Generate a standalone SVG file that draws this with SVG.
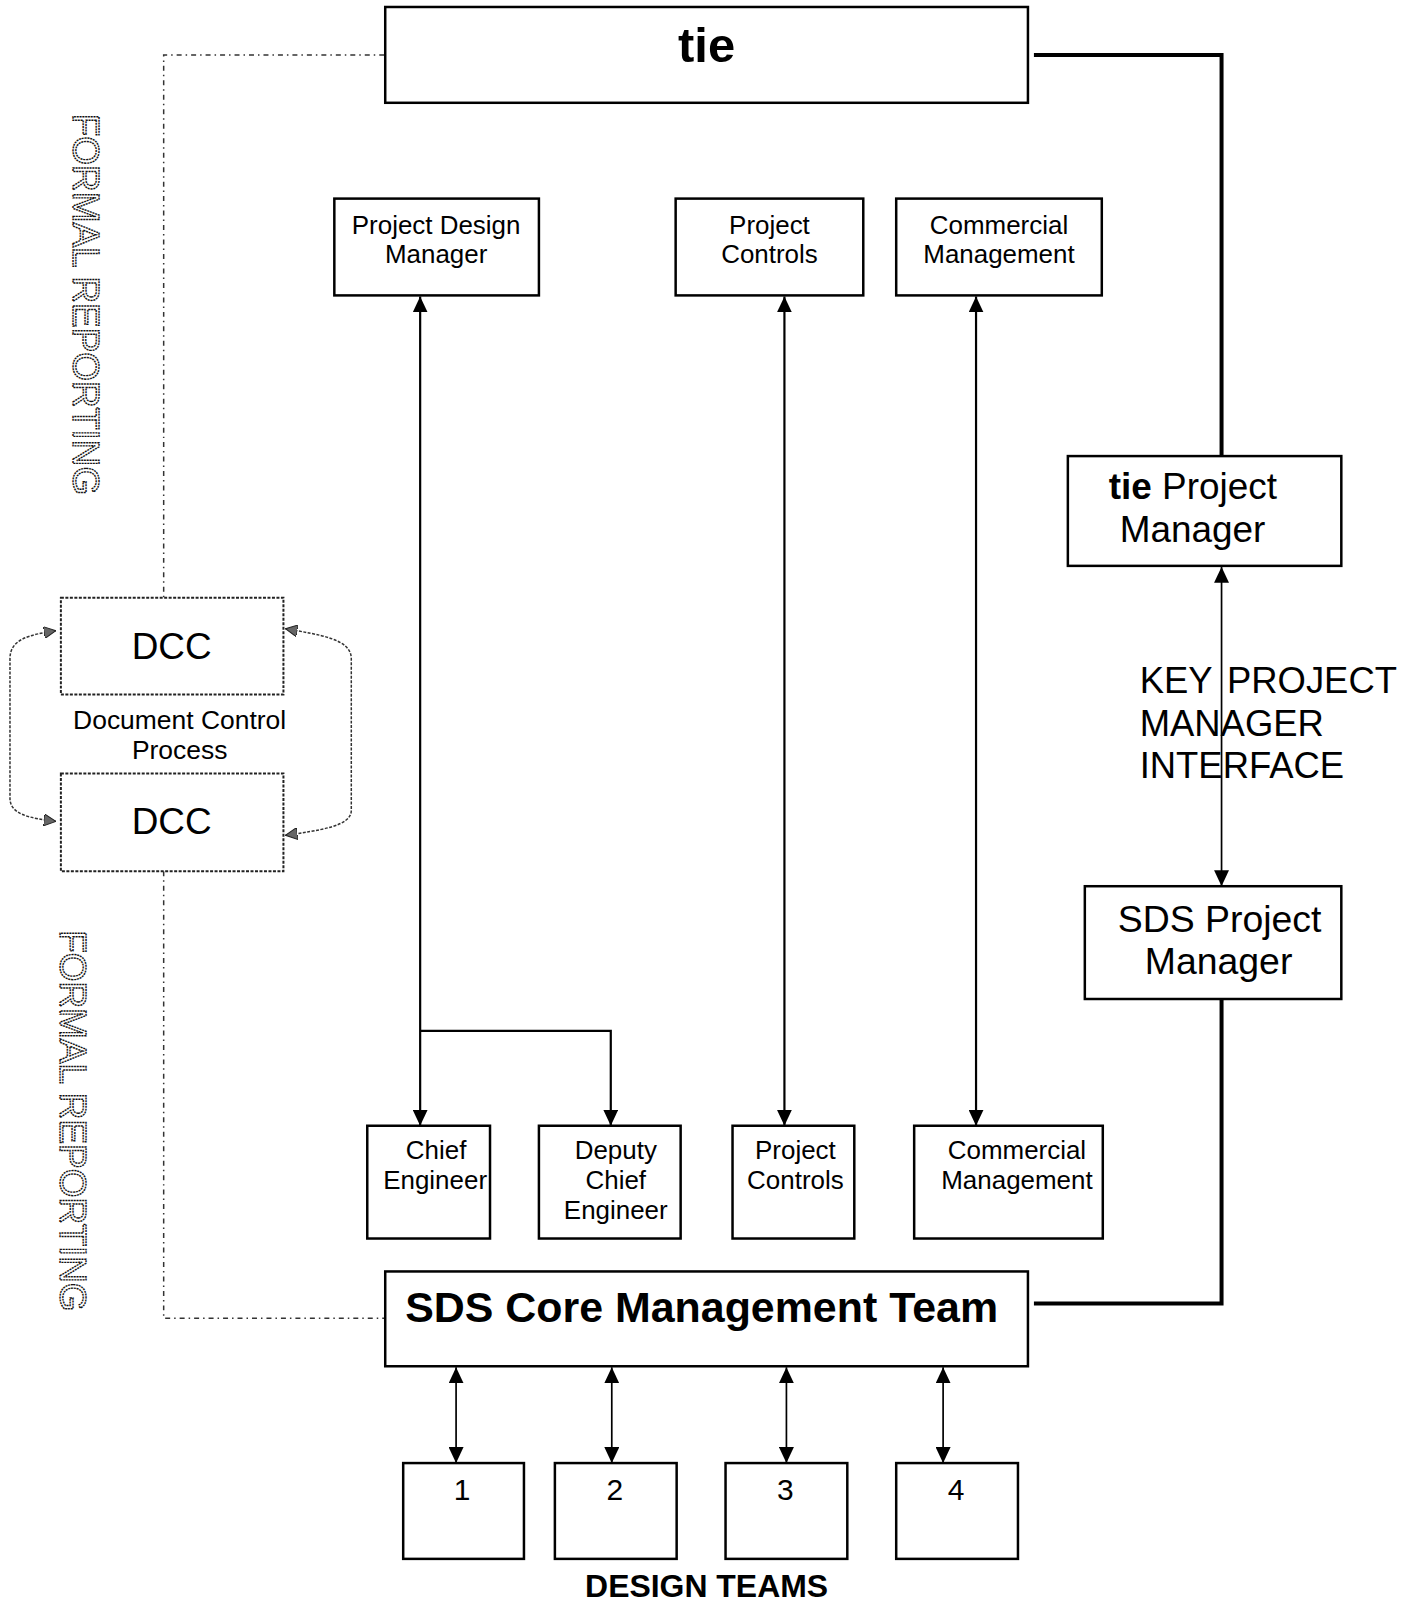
<svg xmlns="http://www.w3.org/2000/svg" width="1416" height="1602" viewBox="0 0 1416 1602">
<style>
.box{fill:#fff;stroke:#000;stroke-width:2.5}
.dcc{fill:#fff;stroke:#222;stroke-width:2;stroke-dasharray:3 1.5}
.t{font-family:"Liberation Sans",Arial,sans-serif;fill:#000}
.conn{fill:none;stroke:#000;stroke-width:2.2}
.thin{fill:none;stroke:#000;stroke-width:1.7}
.thick{fill:none;stroke:#000;stroke-width:4}
.dot{fill:none;stroke:#333;stroke-width:1.5;stroke-dasharray:5 4 1.5 4}
.curve{fill:none;stroke:#333;stroke-width:1.5;stroke-dasharray:3 1.5}
.fr{font-family:"Liberation Sans",Arial,sans-serif;font-size:37px;fill:none;stroke:#111;stroke-width:1.4;stroke-dasharray:2 0.8}
</style>
<defs>
<marker id="ah" viewBox="0 0 16 15" refX="16" refY="7.5" markerWidth="16" markerHeight="15" markerUnits="userSpaceOnUse" orient="auto-start-reverse">
<path d="M0,0 L16,7.5 L0,15 z" fill="#000"/>
</marker>
<marker id="ahs" viewBox="0 0 12 12" refX="12" refY="6" markerWidth="12" markerHeight="12" markerUnits="userSpaceOnUse" orient="auto-start-reverse">
<path d="M0,0 L12,6 L0,12 z" fill="#666" stroke="#222" stroke-width="1"/>
</marker>
</defs>
<g transform="scale(0.998)">
<g id="connectors">
<path class="thick" d="M1036,55 H1224 V456"/>
<path class="thick" d="M1224,1002 V1306 H1036"/>
<path class="dot" d="M385,55 H164 V599"/>
<path class="dot" d="M164,873 V1321 H385"/>
<path class="conn" d="M421,297 V1128" marker-start="url(#ah)" marker-end="url(#ah)"/>
<path class="conn" d="M421,1033 H612 V1128" marker-end="url(#ah)"/>
<path class="conn" d="M786,297 V1128" marker-start="url(#ah)" marker-end="url(#ah)"/>
<path class="conn" d="M978,297 V1128" marker-start="url(#ah)" marker-end="url(#ah)"/>
<path class="thin" d="M1224,568 V888" marker-start="url(#ah)" marker-end="url(#ah)"/>
<path class="thin" d="M457,1370 V1466" marker-start="url(#ah)" marker-end="url(#ah)"/>
<path class="thin" d="M613,1370 V1466" marker-start="url(#ah)" marker-end="url(#ah)"/>
<path class="thin" d="M788,1370 V1466" marker-start="url(#ah)" marker-end="url(#ah)"/>
<path class="thin" d="M945,1370 V1466" marker-start="url(#ah)" marker-end="url(#ah)"/>
<path class="curve" d="M56,632 C30,636 10,640 10,660 L10,800 C10,816 30,820 56,823" marker-start="url(#ahs)" marker-end="url(#ahs)"/>
<path class="curve" d="M286,630 C320,636 352,640 352,660 L352,812 C352,828 320,832 286,837" marker-start="url(#ahs)" marker-end="url(#ahs)"/>
</g>

<g id="tie">
<rect class="box" x="386" y="7" width="644" height="96"/>
<text class="t" x="708" y="62" font-size="49" font-weight="bold" text-anchor="middle">tie</text>
</g>

<g id="formal-reporting-top">
<text class="fr" transform="translate(73,114) rotate(90)">FORMAL REPORTING</text>
</g>
<g id="formal-reporting-bottom">
<text class="fr" transform="translate(60,932) rotate(90)">FORMAL REPORTING</text>
</g>

<g id="project-design-manager">
<rect class="box" x="335" y="199" width="205" height="97"/>
<text class="t" font-size="26" text-anchor="middle"><tspan x="437" y="234">Project Design</tspan><tspan x="437" y="264">Manager</tspan></text>
</g>
<g id="project-controls-top">
<rect class="box" x="677" y="199" width="188" height="97"/>
<text class="t" font-size="26" text-anchor="middle"><tspan x="771" y="234">Project</tspan><tspan x="771" y="264">Controls</tspan></text>
</g>
<g id="commercial-management-top">
<rect class="box" x="898" y="199" width="206" height="97"/>
<text class="t" font-size="26" text-anchor="middle"><tspan x="1001" y="234">Commercial</tspan><tspan x="1001" y="264">Management</tspan></text>
</g>

<g id="tie-project-manager">
<rect class="box" x="1070" y="457" width="274" height="110"/>
<text class="t" font-size="37" x="1111" y="500"><tspan font-weight="bold">tie</tspan> Project</text>
<text class="t" font-size="37" x="1122" y="543">Manager</text>
</g>

<g id="key-interface-label">
<text class="t" font-size="36.5" word-spacing="5"><tspan x="1142" y="694">KEY PROJECT</tspan><tspan x="1142" y="737">MANAGER</tspan><tspan x="1142" y="780">INTERFACE</tspan></text>
</g>

<g id="sds-project-manager">
<rect class="box" x="1087" y="888" width="257" height="113"/>
<text class="t" font-size="37.5" text-anchor="middle"><tspan x="1222" y="934">SDS Project</tspan><tspan x="1221" y="976">Manager</tspan></text>
</g>

<g id="dcc-top">
<rect class="dcc" x="61" y="599" width="223" height="97"/>
<text class="t" font-size="37" x="172" y="660" text-anchor="middle">DCC</text>
</g>
<g id="document-control-label">
<text class="t" font-size="26.5" text-anchor="middle"><tspan x="180" y="730">Document Control</tspan><tspan x="180" y="761">Process</tspan></text>
</g>
<g id="dcc-bottom">
<rect class="dcc" x="61" y="775" width="223" height="98"/>
<text class="t" font-size="37" x="172" y="836" text-anchor="middle">DCC</text>
</g>

<g id="chief-engineer">
<rect class="box" x="368" y="1128" width="123" height="113"/>
<text class="t" font-size="26" text-anchor="middle"><tspan x="437" y="1161">Chief</tspan><tspan x="436" y="1191">Engineer</tspan></text>
</g>
<g id="deputy-chief-engineer">
<rect class="box" x="540" y="1128" width="142" height="113"/>
<text class="t" font-size="26" text-anchor="middle"><tspan x="617" y="1161">Deputy</tspan><tspan x="617" y="1191">Chief</tspan><tspan x="617" y="1221">Engineer</tspan></text>
</g>
<g id="project-controls-bottom">
<rect class="box" x="734" y="1128" width="122" height="113"/>
<text class="t" font-size="26" text-anchor="middle"><tspan x="797" y="1161">Project</tspan><tspan x="797" y="1191">Controls</tspan></text>
</g>
<g id="commercial-management-bottom">
<rect class="box" x="916" y="1128" width="189" height="113"/>
<text class="t" font-size="26" text-anchor="middle"><tspan x="1019" y="1161">Commercial</tspan><tspan x="1019" y="1191">Management</tspan></text>
</g>

<g id="sds-core-management-team">
<rect class="box" x="386" y="1274" width="644" height="95"/>
<text class="t" font-size="43" font-weight="bold" x="703" y="1325" text-anchor="middle">SDS Core Management Team</text>
</g>

<g id="team-1">
<rect class="box" x="404" y="1466" width="121" height="96"/>
<text class="t" font-size="30" x="463" y="1503" text-anchor="middle">1</text>
</g>
<g id="team-2">
<rect class="box" x="556" y="1466" width="122" height="96"/>
<text class="t" font-size="30" x="616" y="1503" text-anchor="middle">2</text>
</g>
<g id="team-3">
<rect class="box" x="727" y="1466" width="122" height="96"/>
<text class="t" font-size="30" x="787" y="1503" text-anchor="middle">3</text>
</g>
<g id="team-4">
<rect class="box" x="898" y="1466" width="122" height="96"/>
<text class="t" font-size="30" x="958" y="1503" text-anchor="middle">4</text>
</g>

<g id="design-teams-label">
<text class="t" font-size="32" font-weight="bold" x="708" y="1600" text-anchor="middle">DESIGN TEAMS</text>
</g>
</g>
</svg>
